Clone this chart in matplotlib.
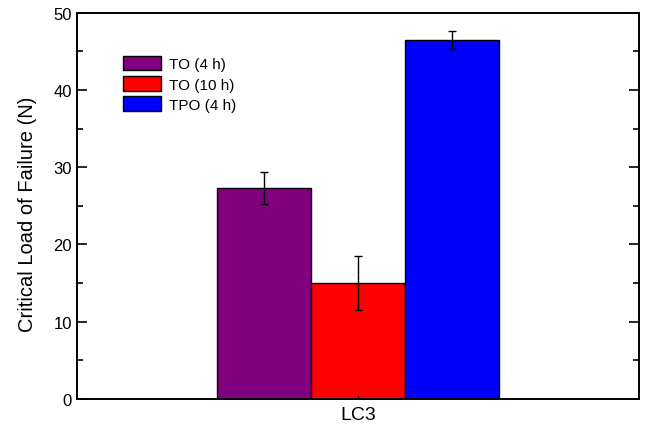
import numpy as np
import matplotlib.pyplot as plt
from matplotlib.ticker import MultipleLocator

groups = ['TO (4 h)', 'TO (10 h)', 'TPO (4 h)']
loads = [27.3, 15.0, 46.5]
errors = [2.1, 3.5, 1.2]
colors = ['#800080', '#ff0000', '#0000ff']
category = 'LC3'

plt.rcParams['font.family'] = ['Liberation Sans', 'DejaVu Sans']

fig = plt.figure(figsize=(6.45, 4.31), dpi=100)
ax = fig.add_axes([0.119, 0.072, 0.872, 0.896])

width = 1 / 3
offsets = (np.arange(len(groups)) - 1) * width
for off, val, err, col, lab in zip(offsets, loads, errors, colors, groups):
    ax.bar(off, val, width, color=col, edgecolor='black', linewidth=1.0, label=lab)
    ax.errorbar(off, val, yerr=err, fmt='none', ecolor='black', elinewidth=1.0,
                capsize=3, capthick=1.0)

ax.set_xlim(-1, 1)
ax.set_ylim(0, 50)
ax.set_xticks([0])
ax.set_xticklabels([category], fontsize=14)
ax.yaxis.set_major_locator(MultipleLocator(10))
ax.yaxis.set_minor_locator(MultipleLocator(5))
ax.tick_params(axis='y', which='major', direction='in', length=7, width=1.2,
               right=True, labelsize=12)
ax.tick_params(axis='y', which='minor', direction='in', length=4, width=1.2, right=True)
ax.tick_params(axis='x', direction='in', length=3, width=1.0, top=False, pad=5)
for s in ax.spines.values():
    s.set_linewidth(1.4)

ax.set_ylabel('Critical Load of Failure (N)', fontsize=14.5)
ax.yaxis.set_label_coords(-0.07, 0.48)

leg = ax.legend(loc='upper left', bbox_to_anchor=(0.071, 0.905), frameon=False,
                fontsize=11, handlelength=2.5, handleheight=1.1,
                handletextpad=0.5, labelspacing=0.32, borderaxespad=0)

fig.savefig('out.png', dpi=100)
